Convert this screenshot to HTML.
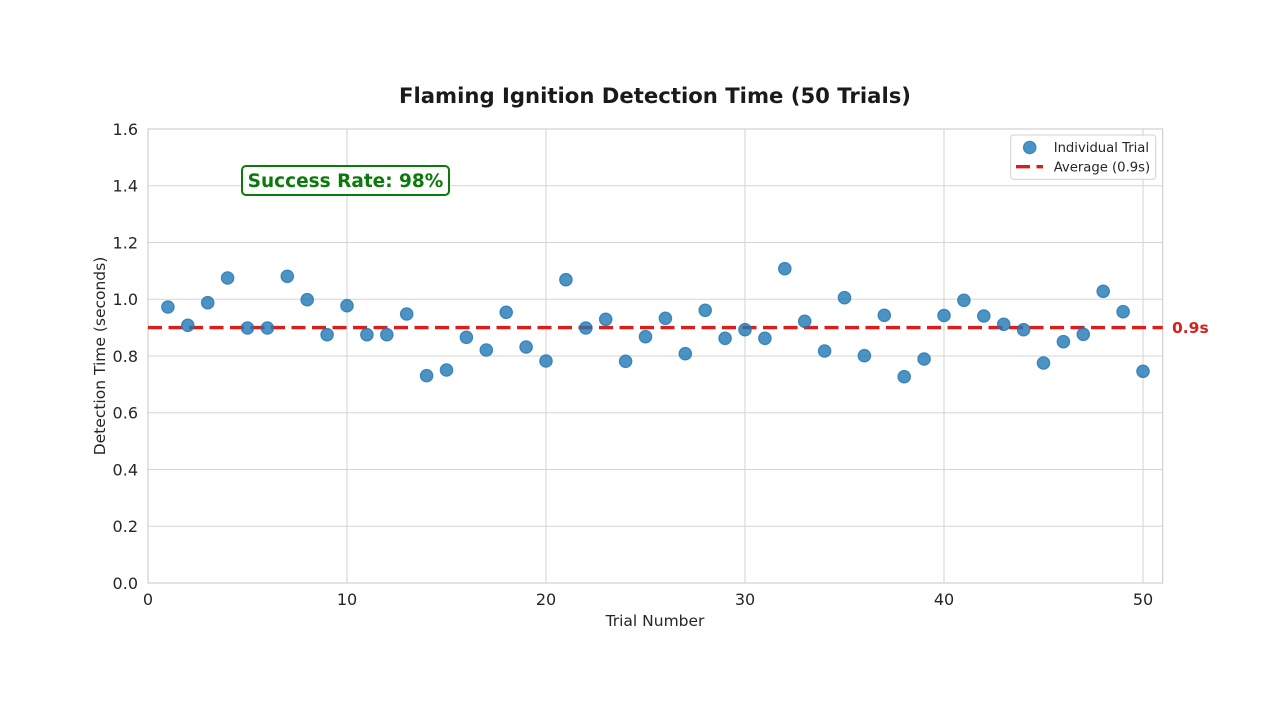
<!DOCTYPE html>
<html><head><meta charset="utf-8"><style>
html,body{margin:0;padding:0;background:#fff;}
svg{display:block;}
text{font-family:"DejaVu Sans","Liberation Sans",sans-serif;}
</style></head><body>
<svg width="1280" height="718" viewBox="0 0 1280 718" xmlns="http://www.w3.org/2000/svg">
<rect width="1280" height="718" fill="#fff"/>
<g stroke="#d5d5d5" stroke-width="1.1">
<line x1="148" y1="526.25" x2="1162.7" y2="526.25"/>
<line x1="148" y1="469.5" x2="1162.7" y2="469.5"/>
<line x1="148" y1="412.75" x2="1162.7" y2="412.75"/>
<line x1="148" y1="356" x2="1162.7" y2="356"/>
<line x1="148" y1="299.25" x2="1162.7" y2="299.25"/>
<line x1="148" y1="242.5" x2="1162.7" y2="242.5"/>
<line x1="148" y1="185.75" x2="1162.7" y2="185.75"/>
<line x1="347" y1="129" x2="347" y2="583"/>
<line x1="546" y1="129" x2="546" y2="583"/>
<line x1="745" y1="129" x2="745" y2="583"/>
<line x1="944" y1="129" x2="944" y2="583"/>
<line x1="1143" y1="129" x2="1143" y2="583"/>
</g>
<rect x="148" y="129" width="1014.7" height="454" fill="none" stroke="#d0d0d0" stroke-width="1.2"/>
<line x1="148" y1="327.6" x2="1162.7" y2="327.6" stroke="#dd1c1c" stroke-width="3.4" stroke-dasharray="14 6.5"/>
<g fill="#1f77b4" fill-opacity="0.8" stroke="#1f77b4" stroke-opacity="0.8" stroke-width="1.2">
<circle cx="167.9" cy="307" r="6.2"/>
<circle cx="187.8" cy="325.3" r="6.2"/>
<circle cx="207.7" cy="302.7" r="6.2"/>
<circle cx="227.6" cy="278" r="6.2"/>
<circle cx="247.5" cy="328" r="6.2"/>
<circle cx="267.4" cy="328" r="6.2"/>
<circle cx="287.3" cy="276.3" r="6.2"/>
<circle cx="307.2" cy="299.7" r="6.2"/>
<circle cx="327.1" cy="334.7" r="6.2"/>
<circle cx="347" cy="305.7" r="6.2"/>
<circle cx="366.9" cy="334.7" r="6.2"/>
<circle cx="386.8" cy="334.7" r="6.2"/>
<circle cx="406.7" cy="314" r="6.2"/>
<circle cx="426.6" cy="375.7" r="6.2"/>
<circle cx="446.5" cy="370" r="6.2"/>
<circle cx="466.4" cy="337.3" r="6.2"/>
<circle cx="486.3" cy="350" r="6.2"/>
<circle cx="506.2" cy="312.3" r="6.2"/>
<circle cx="526.1" cy="347" r="6.2"/>
<circle cx="546" cy="361" r="6.2"/>
<circle cx="565.9" cy="279.7" r="6.2"/>
<circle cx="585.8" cy="328" r="6.2"/>
<circle cx="605.7" cy="319.3" r="6.2"/>
<circle cx="625.6" cy="361.3" r="6.2"/>
<circle cx="645.5" cy="336.7" r="6.2"/>
<circle cx="665.4" cy="318.3" r="6.2"/>
<circle cx="685.3" cy="353.7" r="6.2"/>
<circle cx="705.2" cy="310.3" r="6.2"/>
<circle cx="725.1" cy="338.3" r="6.2"/>
<circle cx="745" cy="329.7" r="6.2"/>
<circle cx="764.9" cy="338.3" r="6.2"/>
<circle cx="784.8" cy="268.7" r="6.2"/>
<circle cx="804.7" cy="321.3" r="6.2"/>
<circle cx="824.6" cy="351" r="6.2"/>
<circle cx="844.5" cy="297.7" r="6.2"/>
<circle cx="864.4" cy="355.7" r="6.2"/>
<circle cx="884.3" cy="315.3" r="6.2"/>
<circle cx="904.2" cy="376.7" r="6.2"/>
<circle cx="924.1" cy="359" r="6.2"/>
<circle cx="944" cy="315.5" r="6.2"/>
<circle cx="963.9" cy="300.3" r="6.2"/>
<circle cx="983.8" cy="316" r="6.2"/>
<circle cx="1003.7" cy="324.3" r="6.2"/>
<circle cx="1023.6" cy="329.7" r="6.2"/>
<circle cx="1043.5" cy="363" r="6.2"/>
<circle cx="1063.4" cy="341.7" r="6.2"/>
<circle cx="1083.3" cy="334.3" r="6.2"/>
<circle cx="1103.2" cy="291.3" r="6.2"/>
<circle cx="1123.1" cy="311.7" r="6.2"/>
<circle cx="1143" cy="371.3" r="6.2"/>
</g>
<g fill="#262626" font-size="16" text-anchor="end">
<text x="138" y="589">0.0</text>
<text x="138" y="532">0.2</text>
<text x="138" y="475.5">0.4</text>
<text x="138" y="418.7">0.6</text>
<text x="138" y="362">0.8</text>
<text x="138" y="305.2">1.0</text>
<text x="138" y="248.5">1.2</text>
<text x="138" y="191.7">1.4</text>
<text x="138" y="135">1.6</text>
</g>
<g fill="#262626" font-size="16" text-anchor="middle">
<text x="148" y="605">0</text>
<text x="347" y="605">10</text>
<text x="546" y="605">20</text>
<text x="745" y="605">30</text>
<text x="944" y="605">40</text>
<text x="1143" y="605">50</text>
</g>
<text x="655" y="626" fill="#262626" font-size="15.5" text-anchor="middle">Trial Number</text>
<text transform="translate(105,356) rotate(-90)" fill="#262626" font-size="15.5" text-anchor="middle">Detection Time (seconds)</text>
<text x="655" y="103" fill="#1a1a1a" font-size="21.2" font-weight="bold" text-anchor="middle">Flaming Ignition Detection Time (50 Trials)</text>
<rect x="242" y="166" width="207" height="29" rx="4" fill="#fff" stroke="#0a7a0a" stroke-width="2"/>
<text x="345.5" y="187" fill="#0a7a0a" font-size="18.5" font-weight="bold" text-anchor="middle">Success Rate: 98%</text>
<text x="1172" y="333" fill="#dd1c1c" font-size="15.5" font-weight="bold">0.9s</text>
<rect x="1010.7" y="135" width="145" height="44.3" rx="3" fill="#fff" fill-opacity="0.85" stroke="#d0d0d0" stroke-width="1"/>
<circle cx="1029.7" cy="147.5" r="6.2" fill="#1f77b4" fill-opacity="0.8" stroke="#1f77b4" stroke-opacity="0.8" stroke-width="1.2"/>
<line x1="1016" y1="166.7" x2="1043" y2="166.7" stroke="#dd1c1c" stroke-width="3.4" stroke-dasharray="14 6.5"/>
<g fill="#262626" font-size="13.2">
<text x="1053.7" y="152">Individual Trial</text>
<text x="1053.7" y="171.5">Average (0.9s)</text>
</g>
</svg>
</body></html>
